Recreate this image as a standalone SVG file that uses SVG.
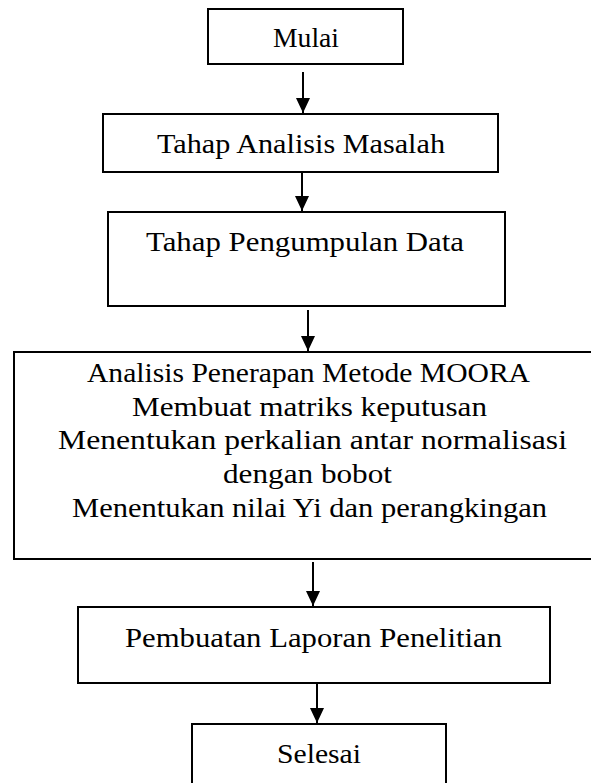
<svg xmlns="http://www.w3.org/2000/svg" width="591" height="783" viewBox="0 0 591 783">
  <style>
    .box { fill: #ffffff; stroke: #000000; stroke-width: 2; }
    .lbl { font-family: "Liberation Serif", "Times New Roman", serif; font-size: 28px; fill: #000000; }
    .conn { stroke: #000000; stroke-width: 2; fill: none; marker-end: url(#arrow); }
  </style>
  <defs>
    <marker id="arrow" markerUnits="userSpaceOnUse" markerWidth="16" markerHeight="16" viewBox="0 0 16 16" refX="15" refY="8" orient="auto">
      <path d="M0,1 L15,8 L0,15 Z" fill="#000000"/>
    </marker>
  </defs>
  <rect width="591" height="783" fill="#ffffff"/>

  <g id="mulai">
    <rect class="box" x="208" y="9" width="195" height="55"/>
    <text class="lbl" x="273" y="47" textLength="66" lengthAdjust="spacingAndGlyphs">Mulai</text>
  </g>

  <g id="analisis-masalah">
    <rect class="box" x="103" y="114" width="395" height="58"/>
    <text class="lbl" x="157" y="153" textLength="288" lengthAdjust="spacingAndGlyphs">Tahap Analisis Masalah</text>
  </g>

  <g id="pengumpulan-data">
    <rect class="box" x="108" y="212" width="397" height="94"/>
    <text class="lbl" x="146" y="251" textLength="318" lengthAdjust="spacingAndGlyphs">Tahap Pengumpulan Data</text>
  </g>

  <g id="moora">
    <rect class="box" x="14" y="352" width="590" height="207"/>
    <text class="lbl" x="87" y="382" textLength="443" lengthAdjust="spacingAndGlyphs">Analisis Penerapan Metode MOORA</text>
    <text class="lbl" x="132" y="416" textLength="355" lengthAdjust="spacingAndGlyphs">Membuat matriks keputusan</text>
    <text class="lbl" x="58" y="449" textLength="509" lengthAdjust="spacingAndGlyphs">Menentukan perkalian antar normalisasi</text>
    <text class="lbl" x="223" y="483" textLength="169" lengthAdjust="spacingAndGlyphs">dengan bobot</text>
    <text class="lbl" x="72" y="517" textLength="475" lengthAdjust="spacingAndGlyphs">Menentukan nilai Yi dan perangkingan</text>
  </g>

  <g id="laporan">
    <rect class="box" x="78" y="607" width="472" height="76"/>
    <text class="lbl" x="125" y="647" textLength="377" lengthAdjust="spacingAndGlyphs">Pembuatan Laporan Penelitian</text>
  </g>

  <g id="selesai">
    <rect class="box" x="192" y="724" width="254" height="70"/>
    <text class="lbl" x="277" y="763" textLength="84" lengthAdjust="spacingAndGlyphs">Selesai</text>
  </g>

  <g id="connectors">
    <line class="conn" x1="303" y1="72" x2="303" y2="113"/>
    <line class="conn" x1="302" y1="172" x2="302" y2="211"/>
    <line class="conn" x1="308" y1="310" x2="308" y2="351"/>
    <line class="conn" x1="313" y1="562" x2="313" y2="606"/>
    <line class="conn" x1="317" y1="683" x2="317" y2="723"/>
  </g>
</svg>
